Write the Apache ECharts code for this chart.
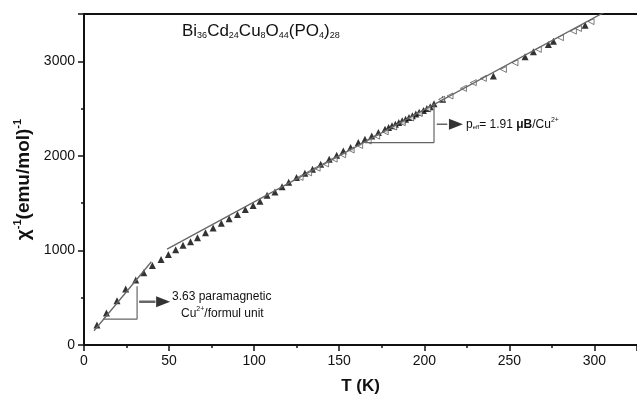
<!doctype html>
<html lang="en">
<head>
    <meta charset="UTF-8" />
    <title>chi inverse vs T</title>
    <script src="https://cdn.jsdelivr.net/npm/echarts@6/dist/echarts.min.js"></script>
</head>
<body style="margin:0;background:#fff">
    <div id="main" style="width:637px;height:400px"></div>
    <script type="text/javascript">
        // data
        var tFilled = [7.6, 13.2, 19.4, 24.5, 30.4, 35.1, 40.2, 45.3, 49.6, 53.9, 58.2, 62.6, 66.7, 71.4, 75.9, 80.7, 85.3, 90.2, 94.8, 99.4,
            103.4, 107.6, 112.2, 116.4, 120.3, 124.9, 129.8, 134.3, 139.1, 144.1, 148.5, 152.4, 156.7, 161.2, 165.1, 169.1, 173, 176.9,
            179, 181, 183, 185, 187, 189, 191, 193, 195, 197, 199.5, 201.5, 203.5, 205.7, 210.8, 240.6, 259.2, 264.1, 272.9, 275.9, 294.5];
        var chiFilled = [211, 338, 468, 591, 688, 763, 841, 905, 958, 1008, 1056, 1091, 1135, 1186, 1238, 1288, 1334, 1381, 1432, 1474,
            1521, 1584, 1619, 1674, 1721, 1771, 1816, 1858, 1911, 1964, 2006, 2052, 2088, 2140, 2175, 2210, 2246, 2281,
            2300, 2318, 2335, 2352, 2370, 2388, 2405, 2425, 2442, 2460, 2480, 2500, 2520, 2552, 2598, 2844, 3049, 3101, 3178, 3213, 3382];
        var tOpen = [127, 132, 137, 142, 147, 152, 157, 162, 167, 172, 177, 182, 187, 192, 197, 202, 210.2, 215.1, 223, 228.8, 234.7,
            246.5, 253.3, 267, 280, 287.6, 290.6, 298];
        var chiOpen = [1772, 1820, 1870, 1915, 1966, 2012, 2062, 2110, 2157, 2208, 2255, 2305, 2351, 2400, 2448, 2497, 2598, 2633, 2714, 2774, 2819,
            2914, 2985, 3126, 3250, 3319, 3347, 3420];
        // fits
        var fitLow = [[5.9, 151], [39.6, 880]];
        var fitHigh = [[48.8, 1014], [310, 3560]];
        // slope triangles and arrows
        var triLow = [[11.2, 274], [31.2, 274], [31.2, 620]];
        var triHigh = [[165.1, 2140], [205.7, 2140], [205.7, 2545]];
        var shaftLow = [[32.4, 457], [42, 457]];
        var shaftHigh = [[207.3, 2334], [213.5, 2334]];
        var arrowHeads = [[46.5, 457], [218.6, 2334]];
        var xTicks = { min: 0, max: 325, interval: 50 };
        var yTicks = { min: 0, max: 3500, interval: 1000 };

        var font = 'Liberation Sans, Arial, sans-serif';
        var chart = echarts.init(document.getElementById('main'));

        function pairs(xs, ys) {
            var out = [];
            for (var i = 0; i < xs.length; i++) out.push([xs[i], ys[i]]);
            return out;
        }
        function grayLine(data, w) {
            return {
                type: 'line', data: data, symbol: 'none', silent: true,
                lineStyle: { color: '#666', width: w }
            };
        }

        var axisCommon = {
            axisLine: { show: true, lineStyle: { color: '#111', width: 2 } },
            axisTick: { show: true, inside: false, length: 6, lineStyle: { color: '#111', width: 1.5 } },
            minorTick: { show: true, splitNumber: 2, length: 3, lineStyle: { color: '#111', width: 1.5 } },
            splitLine: { show: false },
            axisLabel: {
                color: '#111', fontSize: 14, fontFamily: font, margin: 9, showMaxLabel: false,
                formatter: function (v) { return String(v); }
            }
        };

        var option = {
            animation: false,
            backgroundColor: '#fff',
            grid: { left: 84, right: 0, top: 14, bottom: 54 },
            xAxis: [
                Object.assign({
                    type: 'value', min: xTicks.min, max: xTicks.max, interval: xTicks.interval,
                    name: 'T (K)', nameLocation: 'middle', nameGap: 33,
                    nameTextStyle: { fontSize: 17, fontWeight: 'bold', fontFamily: font, color: '#111' }
                }, axisCommon),
                {
                    type: 'value', position: 'top', min: xTicks.min, max: xTicks.max,
                    axisLine: { show: true, lineStyle: { color: '#111', width: 2 } },
                    axisTick: { show: false }, axisLabel: { show: false }, splitLine: { show: false }
                }
            ],
            yAxis: Object.assign({
                type: 'value', min: yTicks.min, max: yTicks.max, interval: yTicks.interval,
                name: '{b|χ}{s|-1}{b|(emu/mol)}{s|-1}', nameLocation: 'middle', nameGap: 48,
                nameTextStyle: {
                    rich: {
                        b: { fontSize: 19, fontWeight: 'bold', fontFamily: font, color: '#111' },
                        s: { fontSize: 11, fontWeight: 'bold', fontFamily: font, color: '#111', padding: [0, 0, 11, 0] }
                    }
                }
            }, axisCommon),
            series: [
                grayLine(fitLow, 1.3),
                grayLine(fitHigh, 1.3),
                {
                    type: 'scatter', data: pairs(tFilled, chiFilled), symbol: 'triangle', symbolSize: 7,
                    itemStyle: { color: '#000' }
                },
                {
                    type: 'scatter', data: pairs(tOpen, chiOpen), symbol: 'triangle', symbolSize: 6, symbolRotate: 90,
                    itemStyle: { color: '#fff', borderColor: '#333', borderWidth: 0.8 }
                },
                grayLine(triLow, 1.2),
                grayLine(triHigh, 1.2),
                grayLine(shaftLow, 2.5),
                grayLine(shaftHigh, 1.5),
                {
                    type: 'scatter', data: arrowHeads, symbol: 'triangle', symbolSize: [11, 14], symbolRotate: -90,
                    itemStyle: { color: '#000' }
                }
            ],
            graphic: [
                {
                    type: 'text', left: 182, top: 23,
                    style: {
                        text: '{m|Bi}{s|36}{m|Cd}{s|24}{m|Cu}{s|8}{m|O}{s|44}{m|(PO}{s|4}{m|)}{s|28}',
                        rich: {
                            m: { fontSize: 17, fontFamily: font, fill: '#111', verticalAlign: 'bottom', lineHeight: 22 },
                            s: { fontSize: 9, fontFamily: font, fill: '#111', verticalAlign: 'bottom', lineHeight: 15 }
                        }
                    }
                },
                {
                    type: 'text', left: 172, top: 291,
                    style: {
                        text: '3.63 paramagnetic', fontSize: 12, fontFamily: font, fill: '#111'
                    }
                },
                {
                    type: 'text', left: 181, top: 306,
                    style: {
                        text: '{m|Cu}{p|2+}{m|/formul unit}',
                        rich: {
                            m: { fontSize: 12, fontFamily: font, fill: '#111' },
                            p: { fontSize: 7, fontFamily: font, fill: '#111', padding: [0, 0, 8, 0] }
                        }
                    }
                },
                {
                    type: 'text', left: 466, top: 117,
                    style: {
                        text: '{m|p}{s|eff}{m|= 1.91 }{b|μB}{m|/Cu}{p|2+}',
                        rich: {
                            m: { fontSize: 12, fontFamily: font, fill: '#111' },
                            b: { fontSize: 12, fontWeight: 'bold', fontFamily: font, fill: '#111' },
                            s: { fontSize: 6, fontFamily: font, fill: '#111', padding: [6, 0, 0, 0] },
                            p: { fontSize: 7, fontFamily: font, fill: '#111', padding: [0, 0, 8, 0] }
                        }
                    }
                }
            ]
        };
        chart.setOption(option);
    </script>
</body>
</html>
